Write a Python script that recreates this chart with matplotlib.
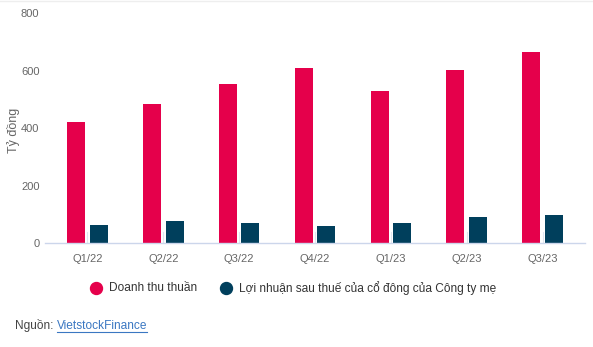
import matplotlib.pyplot as plt
import numpy as np

plt.rcParams['font.family'] = ['Liberation Sans', 'DejaVu Sans']

quarters = ["Q1/22", "Q2/22", "Q3/22", "Q4/22", "Q1/23", "Q2/23", "Q3/23"]
doanh_thu = [421, 485, 555, 608, 531, 604, 664]
loi_nhuan = [63, 77, 70, 59, 70, 91, 98]
series_names = ["Doanh thu thuần", "Lợi nhuận sau thuế của cổ đông của Công ty mẹ"]

red = '#E5004B'
navy = '#003F5C'
grey = '#666666'
W, H = 593, 347

fig = plt.figure(figsize=(W / 100, H / 100), dpi=100)
ax = fig.add_axes([45 / W, 1 - 243 / H, 540 / W, (243 - 13.3) / H])

x = np.arange(len(quarters))
w = 0.237
ax.bar(x - 0.148, doanh_thu, w, color=red)
ax.bar(x + 0.148, loi_nhuan, w, color=navy)

ax.set_xlim(-0.56, 6.56)
ax.set_ylim(0, 800)
ax.set_yticks([0, 200, 400, 600, 800])
ax.set_xticks(x)
ax.set_xticklabels(quarters)
ax.tick_params(axis='y', length=0, pad=4, labelsize=8, labelcolor=grey)
ax.tick_params(axis='x', length=0, pad=8, labelsize=8, labelcolor=grey)

for s in ['top', 'right', 'left']:
    ax.spines[s].set_visible(False)
ax.spines['bottom'].set_color('#ccd6eb')
ax.spines['bottom'].set_linewidth(1)

# faint tick marks at category centres
for xi in x:
    ax.plot([xi, xi], [0, 38], color='#e0e6f0', lw=0.8, zorder=0)

fig.text(13 / W, 1 - 130 / H, "Tỷ đồng", rotation=90, fontsize=9, color=grey,
         ha='center', va='center')


def px(xp, yp):
    return xp / W, 1 - yp / H


# legend row
for cx, tx, color, name in [(96, 109, red, series_names[0]),
                            (226, 239, navy, series_names[1])]:
    mx, my = px(cx, 288)
    fig.add_artist(plt.Line2D([mx], [my], marker='o', markersize=8.6, color=color,
                              lw=0, transform=fig.transFigure))
    fig.text(*px(tx, 288), name, fontsize=8.6, color='#333333', va='center')

# source line
fig.text(*px(15, 326), "Nguồn: ", fontsize=8.6, color='#444444', va='center')
fig.text(*px(57, 326), "VietstockFinance", fontsize=8.6, color='#3a77c2', va='center')
fig.add_artist(plt.Line2D([57 / W, 147 / W], [1 - 331.5 / H] * 2,
                          color='#3a77c2', lw=0.8, transform=fig.transFigure))

# thin frame line on top
fig.add_artist(plt.Line2D([0, 1], [0.998, 0.998], color='#eeeeee', lw=1,
                          transform=fig.transFigure))

fig.savefig('out.png', dpi=100)
